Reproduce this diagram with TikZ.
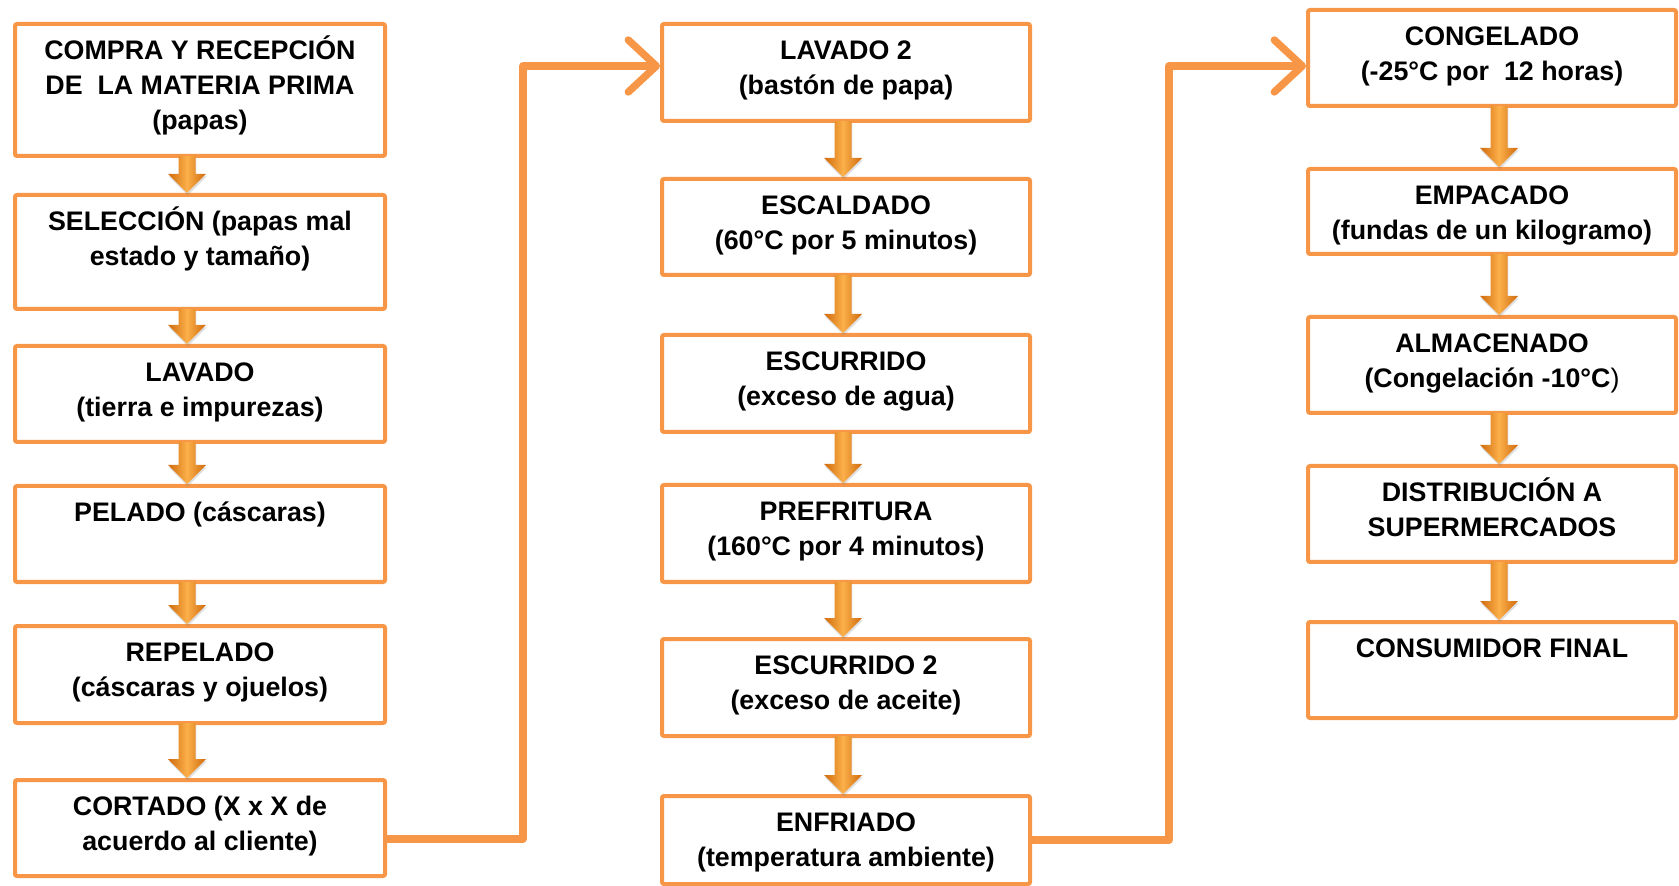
\documentclass[tikz,border=0pt]{standalone}
\usepackage{fontspec}
\setmainfont{Liberation Sans}
\usetikzlibrary{arrows.meta,calc,shadows}
\definecolor{boxorange}{HTML}{F79646}
\definecolor{arrdark}{HTML}{D06A0C}
\definecolor{arrmid}{HTML}{FBB04A}
\newcommand\mkbox[6]{%
  \node[box, minimum width={(#4-#2)*0.5pt}, minimum height={(#5-#3)*0.5pt}] (#1) at ({(#2+#4)/2},{(#3+#5)/2}) {};
  \node[txt] (#1t) at ({(#2+#4)/2},{#3+10}) {\strut #6};}
\newcommand\blockarr[3]{%
  \path[barrow] let \p1=(#1 |- #2.south), \p2=(#1 |- #3.north) in
    (\x1-4.25pt,\y1+1pt) -- (\x1+4.25pt,\y1+1pt) -- (\x1+4.25pt,\y2+9.5pt) -- (\x1+9.5pt,\y2+9.5pt)
    -- (\x1,\y2) -- (\x1-9.5pt,\y2+9.5pt) -- (\x1-4.25pt,\y2+9.5pt) -- cycle;}
\begin{document}
\begin{tikzpicture}[x=0.5pt,y=-0.5pt,
  box/.style={draw=boxorange, line width=2pt, rounded corners=1pt, fill=white, inner sep=0pt},
  txt/.style={anchor=north, inner sep=0pt, align=center, font=\fontsize{13.4}{17.6}\selectfont\bfseries},
  conn/.style={draw=boxorange, line width=3.7pt, line join=round, line cap=round},
  barrow/.style={left color=arrdark, right color=arrdark, middle color=arrmid, draw=none,
    drop shadow={shadow xshift=0.4pt, shadow yshift=-1.2pt, opacity=0.25}}]
\useasboundingbox (0,0) rectangle (1679,886);
% column 1
\mkbox{a1}{15}{24}{385}{156}{COMPRA Y RECEPCIÓN\\DE \ LA MATERIA PRIMA\\(papas)}
\mkbox{a2}{15}{195}{385}{309}{SELECCIÓN (papas mal\\estado y tamaño)}
\mkbox{a3}{15}{346}{385}{442}{LAVADO\\(tierra e impurezas)}
\mkbox{a4}{15}{486}{385}{582}{PELADO (cáscaras)}
\mkbox{a5}{15}{626}{385}{723}{REPELADO\\(cáscaras y ojuelos)}
\mkbox{a6}{15}{780}{385}{876}{CORTADO (X x X de\\acuerdo al cliente)}
% column 2
\mkbox{b1}{662}{24}{1030}{121}{LAVADO 2\\(bastón de papa)}
\mkbox{b2}{662}{179}{1030}{275}{ESCALDADO\\(60°C por 5 minutos)}
\mkbox{b3}{662}{335}{1030}{432}{ESCURRIDO\\(exceso de agua)}
\mkbox{b4}{662}{485}{1030}{582}{PREFRITURA\\(160°C por 4 minutos)}
\mkbox{b5}{662}{639}{1030}{736}{ESCURRIDO 2\\(exceso de aceite)}
\mkbox{b6}{662}{796}{1030}{884}{ENFRIADO\\(temperatura ambiente)}
% column 3
\mkbox{c1}{1308}{10}{1676}{106}{CONGELADO\\(-25°C por \ 12 horas)}
\mkbox{c2}{1308}{169}{1676}{254}{EMPACADO\\(fundas de un kilogramo)}
\mkbox{c3}{1308}{317}{1676}{413}{ALMACENADO\\(Congelación -10°C{\mdseries)}}
\mkbox{c4}{1308}{466}{1676}{562}{DISTRIBUCIÓN A\\SUPERMERCADOS}
\mkbox{c5}{1308}{622}{1676}{718}{CONSUMIDOR FINAL}
% arrow axes
\coordinate (ax1) at (187,0);
\coordinate (ax2) at (843,0);
\coordinate (ax3) at (1499,0);
\blockarr{ax1}{a1}{a2}
\blockarr{ax1}{a2}{a3}
\blockarr{ax1}{a3}{a4}
\blockarr{ax1}{a4}{a5}
\blockarr{ax1}{a5}{a6}
\blockarr{ax2}{b1}{b2}
\blockarr{ax2}{b2}{b3}
\blockarr{ax2}{b3}{b4}
\blockarr{ax2}{b4}{b5}
\blockarr{ax2}{b5}{b6}
\blockarr{ax3}{c1}{c2}
\blockarr{ax3}{c2}{c3}
\blockarr{ax3}{c3}{c4}
\blockarr{ax3}{c4}{c5}
% connectors between columns
\coordinate (j1) at (523,66);
\coordinate (j2) at (1169,66);
\draw[conn, -{Straight Barb[length=14pt,width=26pt,round]}] ([yshift=-5.5pt]a6.east) -| (j1) -- (j1 -| b1.west);
\draw[conn, -{Straight Barb[length=14pt,width=26pt,round]}] (b6.east) -| (j2) -- (j2 -| c1.west);
\end{tikzpicture}
\end{document}
